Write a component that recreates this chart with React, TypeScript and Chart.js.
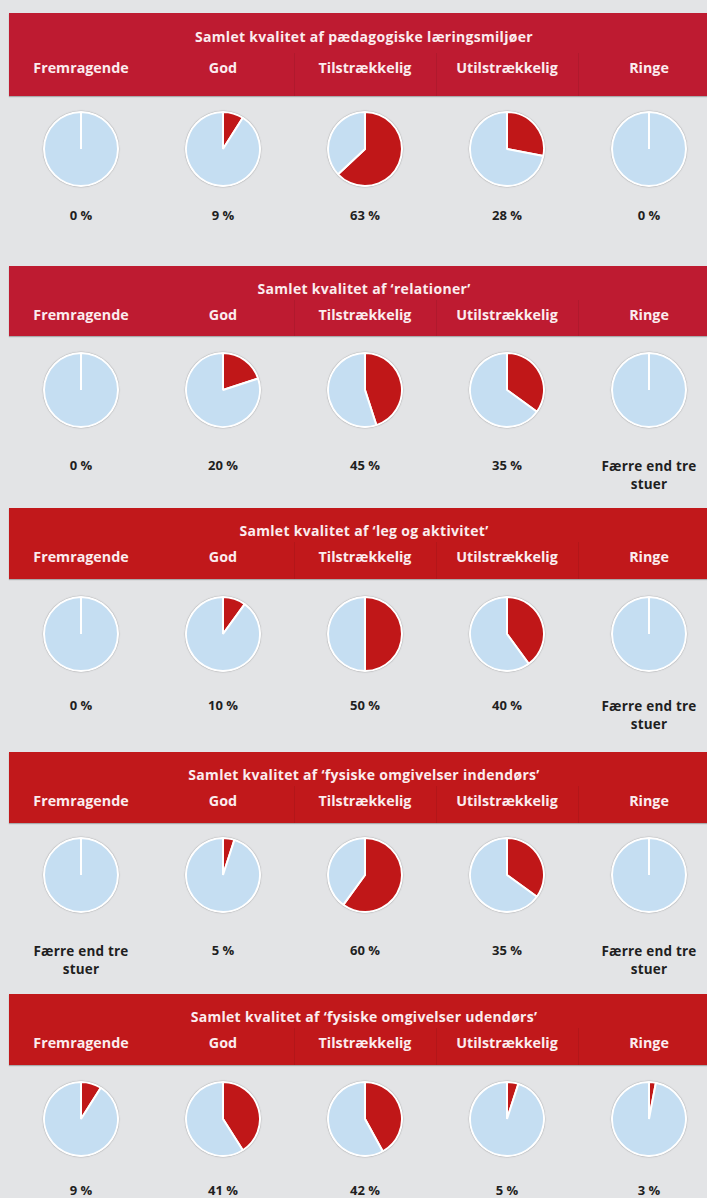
import React, { useEffect, useRef } from "react";
import { Chart, registerables } from "chart.js";

Chart.register(...registerables);

// ---------- DATA ----------
const categories = ["Fremragende", "God", "Tilstrækkelig", "Utilstrækkelig", "Ringe"];

const sectionTitles = [
  "Samlet kvalitet af pædagogiske læringsmiljøer",
  "Samlet kvalitet af ‘relationer’",
  "Samlet kvalitet af ‘leg og aktivitet’",
  "Samlet kvalitet af ‘fysiske omgivelser indendørs’",
  "Samlet kvalitet af ‘fysiske omgivelser udendørs’",
];

// null = "Færre end tre stuer"
const paedagogiskeLaeringsmiljoer: (number | null)[] = [0, 9, 63, 28, 0];
const relationer: (number | null)[] = [0, 20, 45, 35, null];
const legOgAktivitet: (number | null)[] = [0, 10, 50, 40, null];
const fysiskeIndendoers: (number | null)[] = [null, 5, 60, 35, null];
const fysiskeUdendoers: (number | null)[] = [9, 41, 42, 5, 3];

const fewLabel = "Færre end tre stuer";
const fewLines = ["Færre end tre", "stuer"];

const sectionValues = [
  paedagogiskeLaeringsmiljoer,
  relationer,
  legOgAktivitet,
  fysiskeIndendoers,
  fysiskeUdendoers,
];

// ---------- LAYOUT / STYLE ----------
const BG = "#e3e4e6";
const RED = "#c01718";
const BLUE = "#c5def2";
const HEADER_COLORS = ["#be1b31", "#be1b31", "#c1181b", "#c1181b", "#c1181b"];
const FONT = "'Open Sans', 'Noto Sans', sans-serif";

const COL_X0 = 10;
const COL_W = 142;
const PIE_SIZE = 76;

const layout = [
  { top: 13, h: 83, titleY: 37, catY: 68, pieY: 149, valY: 215 },
  { top: 266, h: 70, titleY: 289, catY: 315, pieY: 390, valY: 465 },
  { top: 508, h: 71, titleY: 531, catY: 557, pieY: 634, valY: 705 },
  { top: 752, h: 71, titleY: 775, catY: 801, pieY: 875, valY: 950 },
  { top: 994, h: 71, titleY: 1017, catY: 1043, pieY: 1119, valY: 1190 },
];

function PieCell({ value, cx, cy }: { value: number | null; cx: number; cy: number }) {
  const ref = useRef<HTMLCanvasElement | null>(null);
  useEffect(() => {
    if (!ref.current) return;
    const v = value == null ? 0 : value;
    const chart = new Chart(ref.current, {
      type: "pie",
      data: {
        labels: ["Andel", "Øvrige"],
        datasets: [
          {
            data: [v, 100 - v],
            backgroundColor: [RED, BLUE],
            borderColor: "#ffffff",
            borderWidth: 2,
          },
        ],
      },
      options: {
        responsive: false,
        maintainAspectRatio: false,
        animation: false,
        events: [],
        layout: { padding: 0 },
        plugins: {
          legend: { display: false },
          tooltip: { enabled: false },
        },
      },
    });
    return () => chart.destroy();
  }, [value]);
  return (
    <canvas
      ref={ref}
      width={PIE_SIZE}
      height={PIE_SIZE}
      style={{
        position: "absolute",
        left: cx - PIE_SIZE / 2,
        top: cy - PIE_SIZE / 2,
        width: PIE_SIZE,
        height: PIE_SIZE,
        display: "block",
        borderRadius: "50%",
        boxShadow: "0 0 1px 0.5px rgba(120,120,120,0.35)",
      }}
    />
  );
}

function Section({ idx }: { idx: number }) {
  const L = layout[idx];
  const vals = sectionValues[idx];
  const headerText: React.CSSProperties = {
    position: "absolute",
    color: "#fbecee",
    fontFamily: FONT,
    fontWeight: 700,
    textAlign: "center",
    whiteSpace: "nowrap",
    height: 20,
    lineHeight: "20px",
  };
  return (
    <>
      <div
        style={{
          position: "absolute",
          left: 9,
          top: L.top,
          width: 707 - 9,
          height: L.h,
          background: HEADER_COLORS[idx],
          boxShadow: "0 1px 1px rgba(0,0,0,0.25)",
        }}
      />
      {[294, 436, 578].map((x) => (
        <div
          key={x}
          style={{
            position: "absolute",
            left: x,
            top: L.catY - 15,
            width: 1,
            height: L.top + L.h - (L.catY - 15),
            background: "rgba(0,0,0,0.07)",
          }}
        />
      ))}
      <div
        style={{
          ...headerText,
          left: 0,
          width: 728,
          top: L.titleY - 10,
          fontSize: 14,
          letterSpacing: 0.3,
        }}
      >
        {sectionTitles[idx]}
      </div>
      {categories.map((c, i) => (
        <div
          key={c}
          style={{
            ...headerText,
            left: COL_X0 + i * COL_W,
            width: COL_W,
            top: L.catY - 10,
            fontSize: 14.3,
          }}
        >
          {c}
        </div>
      ))}
      {vals.map((v, i) => (
        <PieCell key={i} value={v} cx={COL_X0 + i * COL_W + COL_W / 2} cy={L.pieY} />
      ))}
      {vals.map((v, i) => (
        <div
          key={"v" + i}
          title={v == null ? fewLabel : undefined}
          style={{
            position: "absolute",
            left: COL_X0 + i * COL_W,
            width: COL_W,
            top: L.valY - 9 + (v == null ? 1 : 0),
            textAlign: "center",
            fontFamily: FONT,
            fontWeight: 700,
            fontSize: 13,
            lineHeight: "18px",
            color: "#1f1f1f",
          }}
        >
          {v == null ? (
            <>
              <div style={{ fontSize: 13.5, letterSpacing: 0.2 }}>{fewLines[0]}</div>
              <div style={{ fontSize: 13.5, letterSpacing: 0.2 }}>{fewLines[1]}</div>
            </>
          ) : (
            `${v} %`
          )}
        </div>
      ))}
    </>
  );
}

export default function App() {
  return (
    <div
      style={{
        position: "absolute",
        left: 0,
        top: 0,
        width: 707,
        height: 1198,
        background: BG,
        overflow: "hidden",
      }}
    >
      {layout.map((_, i) => (
        <Section key={i} idx={i} />
      ))}
    </div>
  );
}
